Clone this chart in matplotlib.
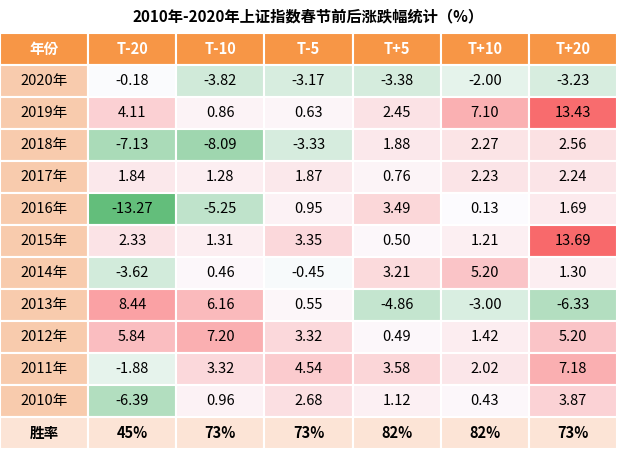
import matplotlib
matplotlib.use('Agg')
import matplotlib.pyplot as plt
import matplotlib.font_manager as fm
import numpy as np
from matplotlib.colors import to_rgb

# CJK font lookup
names = {f.name for f in fm.fontManager.ttflist}
for fc in ['Noto Sans CJK SC', 'Noto Sans CJK JP', 'Noto Sans CJK TC', 'Noto Sans CJK KR']:
    if fc in names:
        plt.rcParams['font.family'] = [fc, 'DejaVu Sans']
        break
plt.rcParams['axes.unicode_minus'] = False

title = '2010年-2020年上证指数春节前后涨跌幅统计（%）'
columns = ['年份', 'T-20', 'T-10', 'T-5', 'T+5', 'T+10', 'T+20']
years = ['2020年', '2019年', '2018年', '2017年', '2016年', '2015年',
         '2014年', '2013年', '2012年', '2011年', '2010年']
values = [
    [-0.18, -3.82, -3.17, -3.38, -2.00, -3.23],
    [4.11, 0.86, 0.63, 2.45, 7.10, 13.43],
    [-7.13, -8.09, -3.33, 1.88, 2.27, 2.56],
    [1.84, 1.28, 1.87, 0.76, 2.23, 2.24],
    [-13.27, -5.25, 0.95, 3.49, 0.13, 1.69],
    [2.33, 1.31, 3.35, 0.50, 1.21, 13.69],
    [-3.62, 0.46, -0.45, 3.21, 5.20, 1.30],
    [8.44, 6.16, 0.55, -4.86, -3.00, -6.33],
    [5.84, 7.20, 3.32, 0.49, 1.42, 5.20],
    [-1.88, 3.32, 4.54, 3.58, 2.02, 7.18],
    [-6.39, 0.96, 2.68, 1.12, 0.43, 3.87],
]
win_label = '胜率'
win_rates = ['45%', '73%', '73%', '82%', '82%', '73%']

vals = np.array(values)
vmax, vmin = vals.max(), vals.min()
white = np.array(to_rgb('#FCFCFF'))
red = np.array(to_rgb('#F8696B'))
green = np.array(to_rgb('#63BE7B'))

def cell_color(v):
    if v >= 0:
        return white + (red - white) * (v / vmax)
    return white + (green - white) * (v / vmin)

W, H = 617, 449
fig = plt.figure(figsize=(W / 100, H / 100), dpi=100)
ax = fig.add_axes([0, 0, 1, 1])
ax.set_xlim(0, W)
ax.set_ylim(H, 0)
ax.axis('off')

ax.text(W / 2, 16, title, ha='center', va='center', fontsize=11, fontweight='bold')

top = 33
row_h = (H - top) / 13
col_w = W / 7

def draw_cell(r, c, color, text, bold=False, tcolor='black'):
    y = top + r * row_h
    ax.add_patch(plt.Rectangle((c * col_w, y), col_w, row_h,
                               facecolor=color, edgecolor='white', linewidth=1.5))
    ax.text((c + 0.5) * col_w, y + row_h / 2, text, ha='center', va='center',
            fontsize=10.5, fontweight='bold' if bold else 'normal', color=tcolor)

for c, name in enumerate(columns):
    draw_cell(0, c, '#F79646', name, bold=True, tcolor='white')
for r, yr in enumerate(years):
    draw_cell(r + 1, 0, '#F8CBAD', yr)
    for c, v in enumerate(values[r]):
        draw_cell(r + 1, c + 1, cell_color(v), f'{v:.2f}')
last = len(years) + 1
draw_cell(last, 0, '#FCE4D6', win_label, bold=True)
for c, w in enumerate(win_rates):
    draw_cell(last, c + 1, '#FCE4D6', w, bold=True)

fig.savefig('out.png', dpi=100)
